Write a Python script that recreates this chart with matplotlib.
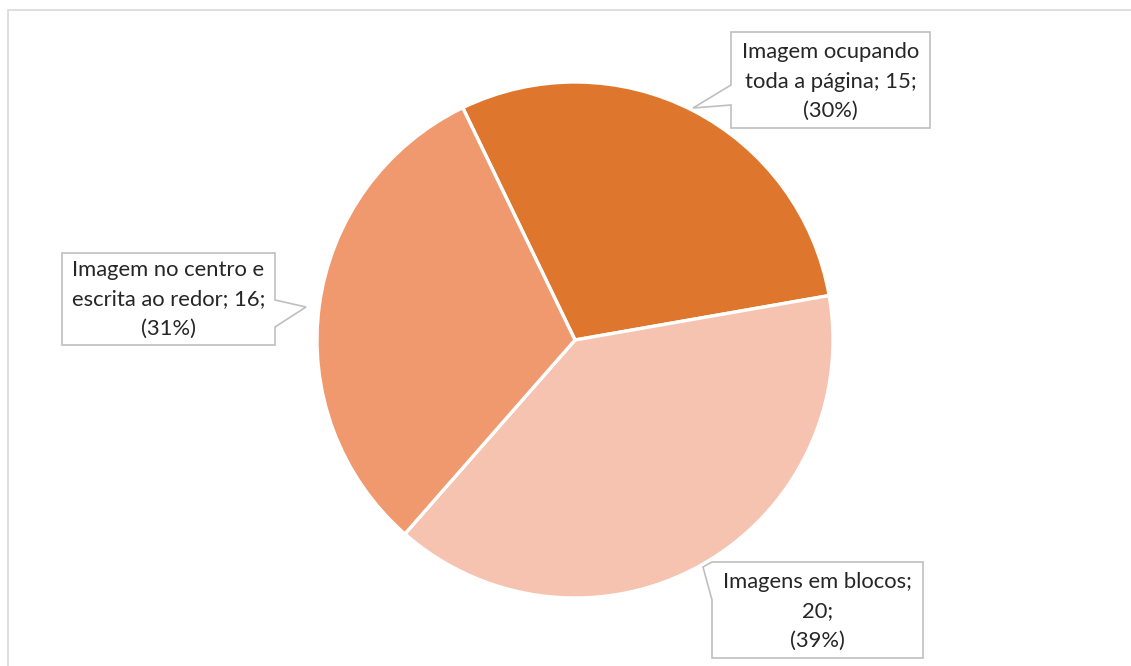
import matplotlib
matplotlib.use("Agg")
import matplotlib.pyplot as plt
from matplotlib.patches import Polygon, Rectangle

# Chart data
categories = ["Imagem ocupando toda a página", "Imagens em blocos", "Imagem no centro e escrita ao redor"]
counts = [15, 20, 16]
percents = [30, 39, 31]
label_lines = [
    ["Imagem ocupando", "toda a página; 15;", "(30%)"],
    ["Imagens em blocos;", "20;", "(39%)"],
    ["Imagem no centro e", "escrita ao redor; 16;", "(31%)"],
]
colors = ["#DF762D", "#F5C3B0", "#F0996F"]

W, H = 1131, 666
fig = plt.figure(figsize=(W / 100, H / 100), dpi=100)
ax = fig.add_axes([0, 0, 1, 1])
ax.set_xlim(0, W)
ax.set_ylim(0, H)
ax.set_aspect("equal")
ax.axis("off")

# Chart-area frame (continues past the right and bottom edges)
ax.add_patch(Rectangle((8, -20), W + 40, H - 10 + 20, fill=False,
                       edgecolor="#D9D9D9", linewidth=1.2))

ax.pie(counts, colors=colors, startangle=115.8, counterclock=False,
       center=(575, H - 340), radius=258,
       wedgeprops=dict(edgecolor="white", linewidth=2.4))
ax.set_xlim(0, W)
ax.set_ylim(0, H)


def callout(box, pointer, lines, text_y):
    x0, y0, x1, y1 = box
    pts = [(x, H - y) for x, y in pointer]
    ax.add_patch(Polygon(pts, closed=True, facecolor="white",
                         edgecolor="#BFBFBF", linewidth=1.2, zorder=5))
    cx = (x0 + x1) / 2
    for i, line in enumerate(lines):
        ax.text(cx, H - (text_y + i * 29.5), line, ha="center", va="center",
                fontsize=15.8, family=["Lato", "DejaVu Sans"], color="#262626",
                zorder=6)


# Callout outlines (box with pointer), in pixel coordinates from the top
callout((731, 32, 930, 128),
        [(731, 32), (930, 32), (930, 128), (731, 128), (731, 105), (693, 108), (731, 85)],
        label_lines[0], 52)
callout((712, 562, 923, 658),
        [(712, 562), (923, 562), (923, 658), (712, 658), (712, 600), (703, 567)],
        label_lines[1], 582)
callout((62, 253, 275, 345),
        [(62, 253), (275, 253), (275, 300), (306, 307), (275, 327), (275, 345), (62, 345)],
        label_lines[2], 270)

fig.savefig("out.png", dpi=100, facecolor="white")
